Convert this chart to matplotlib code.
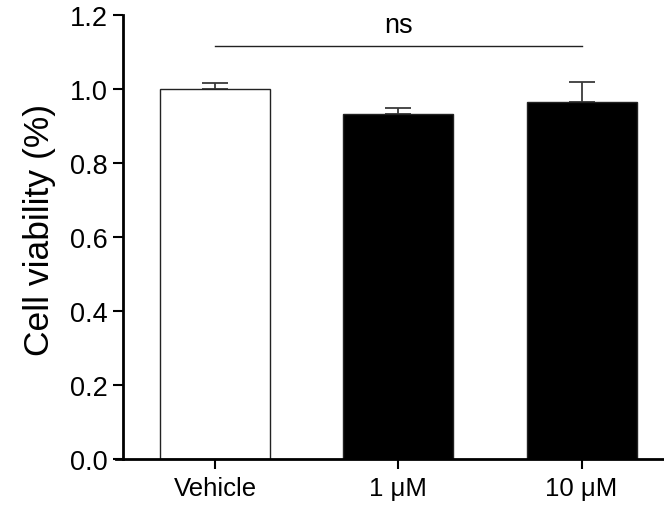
import matplotlib
matplotlib.use("Agg")
import matplotlib.pyplot as plt

plt.rcParams['font.family'] = ['Liberation Sans', 'DejaVu Sans']

categories = ["Vehicle", "1 μM", "10 μM"]
means = [1.0, 0.932, 0.965]
sems = [0.016, 0.016, 0.053]
colors = ["white", "black", "black"]
yticks = [0.0, 0.2, 0.4, 0.6, 0.8, 1.0, 1.2]
sig_label = "ns"
sig_y = 1.116

fig = plt.figure(figsize=(6.64, 5.06), dpi=100)
ax = fig.add_axes([0.1747, 0.0909, 0.8253, 0.8775])

x = list(range(len(categories)))
ax.bar(x, means, width=0.6, color=colors, edgecolor="#222222", linewidth=1.0, zorder=2)
ax.errorbar(x, means, yerr=[[0]*len(sems), sems], fmt="none", ecolor="#3a3a3a",
            elinewidth=1.3, capsize=9.5, capthick=1.3, zorder=1)

ax.plot([x[0], x[-1]], [sig_y, sig_y], color="#222222", lw=1.0, clip_on=False)
ax.text((x[0] + x[-1]) / 2, sig_y + 0.022, sig_label, ha="center", va="bottom", fontsize=19.5)

ax.set_xlim(-0.54, 2.45)
ax.set_ylim(0, 1.2)
for s in ["top", "right"]:
    ax.spines[s].set_visible(False)
ax.spines["left"].set_position(("data", -0.5))
ax.spines["left"].set_linewidth(2)
ax.spines["bottom"].set_linewidth(2)

ax.set_xticks(x)
ax.set_xticklabels(categories)
ax.set_yticks(yticks)
ax.set_yticklabels([f"{v:.1f}" for v in yticks])
ax.tick_params(axis="both", width=1.5, length=7, color="black")
ax.tick_params(axis="x", pad=5, labelsize=18.5)
ax.tick_params(axis="y", pad=4, labelsize=19.5)
ax.set_ylabel("Cell viability (%)", fontsize=25.5, labelpad=10)
ax.yaxis.label.set_y(0.518)

fig.savefig("out.png", dpi=100)
